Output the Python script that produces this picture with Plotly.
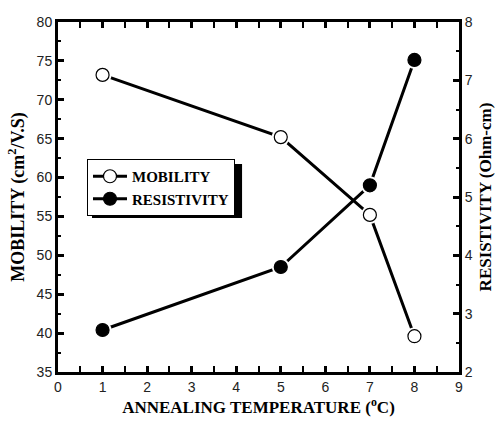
import plotly.graph_objects as go

temperature = [1, 5, 7, 8]
mobility = [73.2, 65.2, 55.2, 39.6]
resistivity = [2.72, 3.8, 5.2, 7.35]

x_ticks = list(range(0, 10))
y_ticks = list(range(35, 81, 5))
y2_ticks = list(range(2, 9))

fig = go.Figure()

def add_series(y, name, fill, axis):
    fig.add_trace(go.Scatter(
        x=temperature, y=y, name=f"<b>{name}</b>", mode="lines+markers", yaxis=axis,
        legendgroup=name,
        line=dict(color="black", width=3),
        marker=dict(symbol="circle", size=13, color=fill, line=dict(color="black", width=1.2)),
    ))
    fig.add_trace(go.Scatter(
        x=temperature, y=y, mode="markers", yaxis=axis, showlegend=False, legendgroup=name,
        marker=dict(symbol="circle", size=18, color="white", line=dict(width=0)),
        hoverinfo="skip",
    ))
    fig.add_trace(go.Scatter(
        x=temperature, y=y, mode="markers", yaxis=axis, showlegend=False, legendgroup=name,
        marker=dict(symbol="circle", size=13, color=fill, line=dict(color="black", width=1.2)),
    ))

add_series(mobility, "MOBILITY", "white", "y")
add_series(resistivity, "RESISTIVITY", "black", "y2")

tick_font = dict(family="Liberation Sans", size=14, color="#222")
title_font = dict(family="Liberation Serif", size=17, color="black")

fig.update_layout(
    width=495, height=423,
    margin=dict(l=58, r=36, t=22, b=51),
    plot_bgcolor="white", paper_bgcolor="white",
    showlegend=True,
    legend=dict(
        x=0.0723, y=0.6086, xanchor="left", yanchor="top",
        bgcolor="white", bordercolor="black", borderwidth=1,
        font=dict(family="Liberation Serif", size=15, color="black"),
        itemwidth=34, tracegroupgap=0,
    ),
    xaxis=dict(
        range=[0, 9], tickvals=x_ticks, ticktext=[str(v) for v in x_ticks],
        ticks="inside", ticklen=6, tickwidth=3, tickcolor="black",
        minor=dict(dtick=0.5, ticks="inside", ticklen=3, tickwidth=2, tickcolor="black"),
        showline=True, linewidth=3, linecolor="black", mirror="allticks",
        showgrid=False, zeroline=False, tickfont=tick_font, automargin=False,
        title=dict(text="<b>ANNEALING TEMPERATURE (<sup>o</sup>C)</b>", font=title_font, standoff=8),
    ),
    yaxis=dict(
        range=[35, 80], tickvals=y_ticks, ticktext=[str(v) for v in y_ticks],
        ticks="inside", ticklen=6, tickwidth=3, tickcolor="black",
        minor=dict(dtick=2.5, ticks="inside", ticklen=3, tickwidth=2, tickcolor="black"),
        showline=True, linewidth=3, linecolor="black",
        showgrid=False, zeroline=False, tickfont=tick_font, automargin=False,
        title=dict(text="<b>MOBILITY (cm<sup>2</sup>/V.S)</b>", font=dict(family="Liberation Serif", size=18, color="black"), standoff=8),
    ),
    yaxis2=dict(
        range=[2, 8], tickvals=y2_ticks, ticktext=[str(v) for v in y2_ticks],
        overlaying="y", side="right",
        ticks="inside", ticklen=6, tickwidth=3, tickcolor="black",
        minor=dict(dtick=0.5, ticks="inside", ticklen=3, tickwidth=2, tickcolor="black"),
        showline=True, linewidth=3, linecolor="black",
        showgrid=False, zeroline=False, tickfont=tick_font, automargin=False,
        title=dict(text="<b>RESISTIVITY (Ohm-cm)</b>", font=title_font, standoff=8),
    ),
)
# legend drop shadow
fig.add_shape(type="rect", xref="paper", yref="paper",
              x0=0.0848, x1=0.459, y0=0.44, y1=0.594,
              fillcolor="black", line=dict(width=0), layer="below")

fig.write_html("out.html")
